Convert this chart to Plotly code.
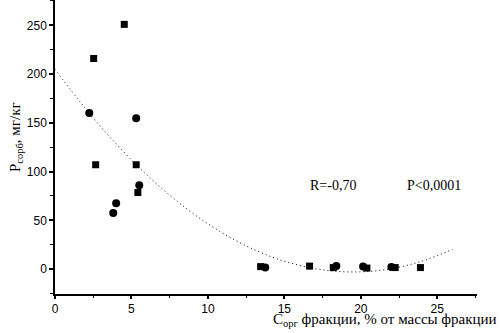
import plotly.graph_objects as go

# Data
sq_x = [2.53, 2.66, 4.53, 5.31, 5.42, 13.45, 16.65, 18.2, 20.4, 22.25, 23.9]
sq_y = [216, 107, 251, 107, 78.5, 2.5, 3.0, 1.5, 1.0, 1.5, 1.5]
ci_x = [2.24, 3.81, 4.0, 5.31, 5.51, 13.75, 18.4, 20.15, 22.0]
ci_y = [160, 57.4, 67.6, 154.7, 86, 1.5, 3.0, 2.5, 2.0]

fit_x = [0, 2, 4, 6, 8, 10, 12, 14, 16, 18, 20, 22, 24, 26]
fit_y = [205, 164.5, 128.4, 96.7, 69.3, 46.4, 27.8, 13.5, 3.7, -1.8, -2.9, 0.4, 8.1, 20.1]

x_ticks = [0, 5, 10, 15, 20, 25]
y_ticks = [0, 50, 100, 150, 200, 250]

fig = go.Figure()
fig.add_trace(go.Scatter(x=fit_x, y=fit_y, mode="lines",
                         line=dict(color="black", width=1, dash="1px,3px", shape="spline"),
                         hoverinfo="skip", showlegend=False))
fig.add_trace(go.Scatter(x=sq_x, y=sq_y, mode="markers",
                         marker=dict(symbol="square", size=7, color="black"),
                         showlegend=False))
fig.add_trace(go.Scatter(x=ci_x, y=ci_y, mode="markers",
                         marker=dict(symbol="circle", size=8, color="black"),
                         showlegend=False))

tickfont = dict(family="Liberation Sans, Arial", size=12, color="black")
fig.update_xaxes(range=[0, 27.6], tickmode="array", tickvals=x_ticks,
                 ticktext=[str(v) for v in x_ticks], ticks="outside", ticklen=3,
                 tickwidth=1.5, tickcolor="black", showline=True, linecolor="black",
                 linewidth=1.5, showgrid=False, zeroline=False, tickfont=tickfont,
                 ticklabeloverflow="allow",
                 minor=dict(dtick=2.5, tick0=0, ticks="outside", ticklen=2,
                            tickcolor="black", tickwidth=1))
fig.update_yaxes(range=[-25.6, 276], tickmode="array", tickvals=y_ticks,
                 ticktext=[str(v) for v in y_ticks], ticks="outside", ticklen=4,
                 tickwidth=1.5, tickcolor="black", showline=True, linecolor="black",
                 linewidth=1.5, showgrid=False, zeroline=False, tickfont=tickfont,
                 minor=dict(dtick=25, tick0=0, ticks="outside", ticklen=3,
                            tickcolor="black", tickwidth=1))

serif = dict(family="Liberation Serif, Times New Roman", size=14, color="black")
title_font = dict(family="Liberation Serif, Times New Roman", size=15, color="black")
fig.add_annotation(x=18.2, y=86, xref="x", yref="y", text="R=-0,70",
                   showarrow=False, font=serif)
fig.add_annotation(x=24.8, y=86, xref="x", yref="y", text="P<0,0001",
                   showarrow=False, font=serif)
fig.add_annotation(x=1.0, xref="paper", xanchor="right", xshift=21,
                   y=0, yref="paper", yanchor="top", yshift=-16,
                   bgcolor="rgba(0,0,0,0)", borderpad=0,
                   text="C<sub>орг</sub> фракции, % от массы фракции",
                   showarrow=False, font=title_font)
fig.add_annotation(x=0, xref="paper", xshift=-50, y=0.5, yref="paper", yshift=10,
                   textangle=-90,
                   text="P<sub>сорб</sub>, мг/кг", showarrow=False, font=title_font)

fig.update_layout(width=500, height=333, paper_bgcolor="white", plot_bgcolor="white",
                  margin=dict(l=55, r=23, t=0, b=39))
fig.write_html("out.html", config={"displayModeBar": False},
               post_script="document.body.style.margin='0';")
